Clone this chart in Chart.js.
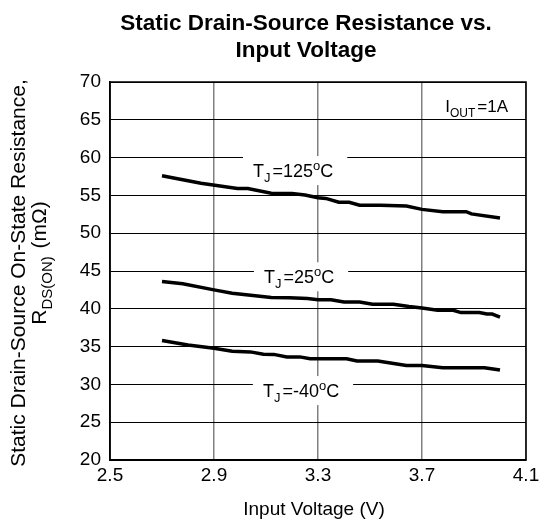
<!DOCTYPE html>
<html>
<head>
<meta charset="utf-8">
<script src="https://cdn.jsdelivr.net/npm/chart.js@4/dist/chart.umd.min.js"></script>
<style>
  body { margin: 0; background: #fff; }
  canvas { display: block; }
</style>
</head>
<body>
<canvas id="myChart" width="539" height="524"></canvas>
<script>
// values
const xTicks = [2.5, 2.9, 3.3, 3.7, 4.1];

const v125 = [2.70, 2.85, 2.99, 3.03, 3.12, 3.20, 3.25, 3.30, 3.33, 3.38, 3.42, 3.46, 3.54, 3.64, 3.70, 3.78, 3.87, 3.89, 4.00];
const r125 = [57.6, 56.6, 55.9, 55.9, 55.3, 55.25, 55.05, 54.7, 54.6, 54.1, 54.1, 53.7, 53.7, 53.6, 53.15, 52.85, 52.85, 52.55, 52.0];

const v25 = [2.70, 2.78, 2.90, 2.97, 3.05, 3.12, 3.19, 3.26, 3.30, 3.35, 3.40, 3.46, 3.51, 3.59, 3.65, 3.70, 3.76, 3.82, 3.85, 3.92, 3.95, 3.97, 4.00];
const r25 = [43.6, 43.3, 42.5, 42.06, 41.75, 41.5, 41.45, 41.36, 41.2, 41.2, 40.9, 40.9, 40.6, 40.6, 40.3, 40.1, 39.8, 39.8, 39.5, 39.5, 39.3, 39.3, 38.9];

const vm40 = [2.70, 2.80, 2.90, 2.97, 3.04, 3.09, 3.13, 3.18, 3.23, 3.27, 3.41, 3.45, 3.53, 3.64, 3.70, 3.78, 3.94, 3.96, 4.00];
const rm40 = [35.8, 35.2, 34.78, 34.4, 34.3, 34.0, 33.97, 33.64, 33.64, 33.4, 33.4, 33.1, 33.1, 32.5, 32.5, 32.2, 32.2, 32.1, 31.9];

// curve labels: left edge (V) and middle of caps (mOhm)
const curveLabels = [
  { x: 3.05, y: 58.35, parts: [['T'], ['J', 'sub'], ['=125'], ['o', 'sup'], ['C']] },
  { x: 3.092, y: 44.3, parts: [['T'], ['J', 'sub'], ['=25'], ['o', 'sup'], ['C']] },
  { x: 3.088, y: 29.25, parts: [['T'], ['J', 'sub'], ['=-40'], ['o', 'sup'], ['C']] }
];

const FONT = '"Liberation Sans", Arial, sans-serif';

function pts(xs, ys) {
  return xs.map((x, i) => ({ x: x, y: ys[i] }));
}

// text made of normal / sub / sup pieces, starting at x, baseline y
function richWidth(ctx, parts, size) {
  let w = 0;
  parts.forEach(p => {
    ctx.font = (p[1] ? Math.round(size * 0.7) : size) + 'px ' + FONT;
    w += ctx.measureText(p[0]).width + (p[1] === 'sub' ? 2 : 0);
  });
  return w;
}
function drawRich(ctx, parts, x, y, size) {
  parts.forEach(p => {
    let dy = 0;
    if (p[1] === 'sub') dy = size * 0.3;
    if (p[1] === 'sup') dy = -size * 0.35;
    ctx.font = (p[1] ? Math.round(size * 0.7) : size) + 'px ' + FONT;
    ctx.fillText(p[0], x, y + dy);
    x += ctx.measureText(p[0]).width + (p[1] === 'sub' ? 2 : 0);
  });
}

const decorPlugin = {
  id: 'decor',
  beforeDatasetsDraw(chart) {
    const ctx = chart.ctx;
    const xs = chart.scales.x, ys = chart.scales.y;
    const a = chart.chartArea;
    ctx.save();
    ctx.fillStyle = '#000';
    ctx.textAlign = 'left';
    ctx.textBaseline = 'alphabetic';

    // curve labels on white boxes that cut the grid
    curveLabels.forEach(l => {
      const px = xs.getPixelForValue(l.x);
      const py = ys.getPixelForValue(l.y);
      const w = richWidth(ctx, l.parts, 18);
      ctx.fillStyle = '#fff';
      ctx.fillRect(px - 10, py - 14, w + 24, 29);
      ctx.fillStyle = '#000';
      drawRich(ctx, l.parts, px, py + 6.5, 18);
    });

    // I_OUT note
    const note = [['I'], ['OUT', 'sub'], ['=1A']];
    const nw = richWidth(ctx, note, 17);
    drawRich(ctx, note, a.right - 18 - nw, a.top + 30, 17);

    // frame
    ctx.strokeStyle = '#000';
    ctx.lineWidth = 1.5;
    ctx.strokeRect(a.left, a.top, a.right - a.left, a.bottom - a.top);
    ctx.restore();
  },
  afterDraw(chart) {
    const ctx = chart.ctx;
    const a = chart.chartArea;
    const cx = (a.left + a.right) / 2;
    const cy = (a.top + a.bottom) / 2;
    ctx.save();
    ctx.fillStyle = '#000';
    ctx.textAlign = 'center';
    ctx.textBaseline = 'alphabetic';

    // title
    ctx.font = 'bold 22.5px ' + FONT;
    ctx.fillText('Static Drain-Source Resistance vs.', 306, 30);
    ctx.fillText('Input Voltage', 306, 57);

    // x axis title
    ctx.font = '19px ' + FONT;
    ctx.fillText('Input Voltage (V)', cx - 4, 515);

    // y axis title
    ctx.translate(0, cy + 2);
    ctx.rotate(-Math.PI / 2);
    ctx.font = '21px ' + FONT;
    ctx.fillText('Static Drain-Source On-State Resistance,', 0, 25);
    const yl = [['R'], ['DS(ON)', 'sub'], [' (m\u03A9)']];
    ctx.textAlign = 'left';
    const yw = richWidth(ctx, yl, 21);
    drawRich(ctx, yl, -yw / 2 + 10, 46, 21);
    ctx.restore();
  }
};

const ctx = document.getElementById('myChart').getContext('2d');
const lineStyle = {
  borderColor: '#000',
  borderWidth: 3.5,
  pointRadius: 0,
  fill: false,
  tension: 0
};

new Chart(ctx, {
  type: 'line',
  data: {
    datasets: [
      Object.assign({ label: 'TJ=125C', data: pts(v125, r125) }, lineStyle),
      Object.assign({ label: 'TJ=25C', data: pts(v25, r25) }, lineStyle),
      Object.assign({ label: 'TJ=-40C', data: pts(vm40, rm40) }, lineStyle)
    ]
  },
  options: {
    responsive: false,
    animation: false,
    devicePixelRatio: 1,
    layout: { padding: { top: 82, right: 13, left: 0, bottom: 0 } },
    plugins: {
      legend: { display: false },
      tooltip: { enabled: false }
    },
    scales: {
      x: {
        type: 'linear',
        min: 2.5,
        max: 4.1,
        afterBuildTicks: scale => {
          scale.ticks = xTicks.map(v => ({ value: v }));
        },
        afterFit: scale => {
          scale.height = 64;
          scale.paddingLeft = 0;
          scale.paddingRight = 0;
        },
        ticks: {
          color: '#000',
          font: { family: FONT, size: 19 },
          padding: 4,
          maxRotation: 0,
          callback: v => v.toFixed(1)
        },
        grid: { color: '#808080', lineWidth: 1.5, drawTicks: false },
        border: { color: '#000', width: 1.5 }
      },
      y: {
        min: 20,
        max: 70,
        afterFit: scale => {
          scale.width = 110;
          scale.paddingTop = 0;
          scale.paddingBottom = 0;
        },
        ticks: {
          stepSize: 5,
          color: '#000',
          font: { family: FONT, size: 19 },
          padding: 9
        },
        grid: { color: '#000', lineWidth: 1, drawTicks: false },
        border: { color: '#000', width: 1.5 }
      }
    }
  },
  plugins: [decorPlugin]
});
</script>
</body>
</html>
